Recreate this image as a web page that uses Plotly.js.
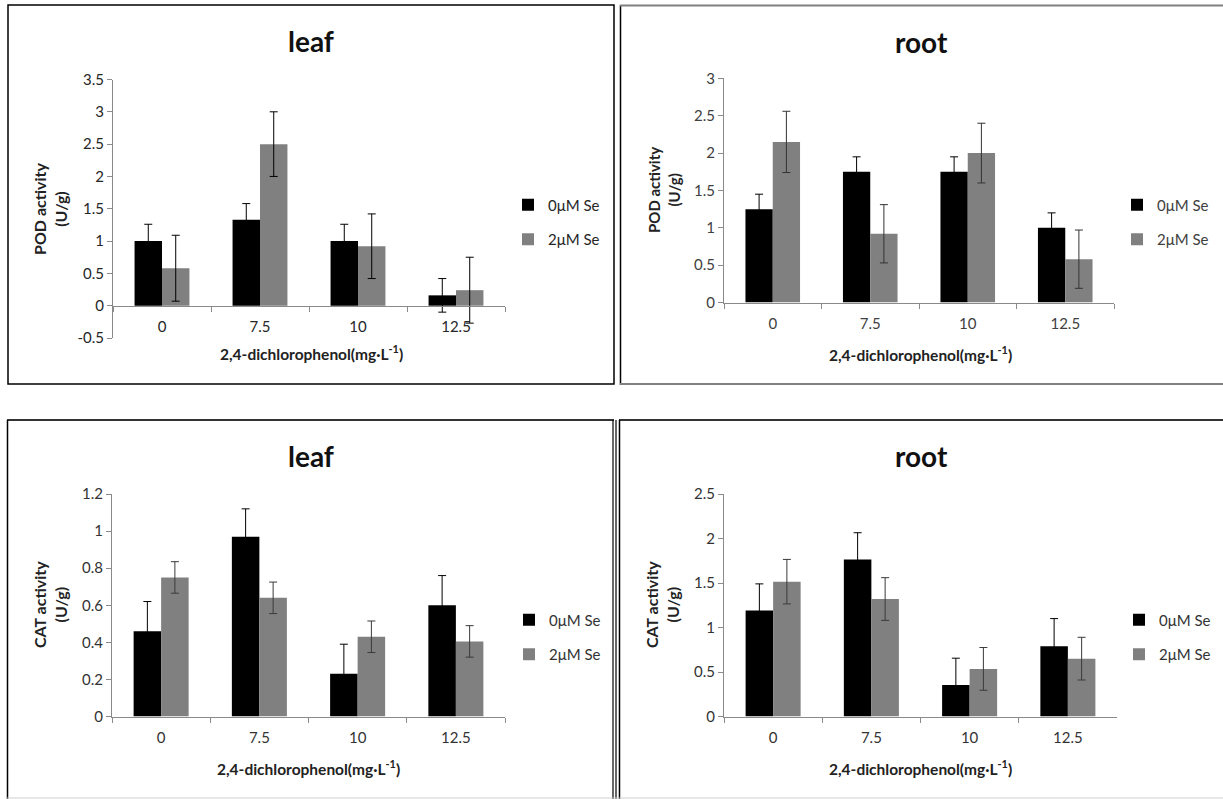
<!DOCTYPE html>
<html><head><meta charset="utf-8">
<script src="https://cdn.plot.ly/plotly-3.0.1.min.js"></script>
<style>html,body{margin:0;padding:0;background:#fff}#chart{width:1223px;height:799px}</style>
</head><body><div id="chart"></div>
<script>
// ---- data ----
const categories = ['0', '7.5', '10', '12.5'];
const seriesNames = ['0μM Se', '2μM Se'];

const podLeaf0 = [1.0, 1.33, 1.0, 0.16];
const podLeaf0Err = [0.26, 0.25, 0.26, 0.26];
const podLeaf2 = [0.58, 2.5, 0.92, 0.24];
const podLeaf2Err = [0.51, 0.5, 0.5, 0.51];

const podRoot0 = [1.25, 1.75, 1.75, 1.0];
const podRoot0Err = [0.2, 0.2, 0.2, 0.2];
const podRoot2 = [2.15, 0.92, 2.0, 0.58];
const podRoot2Err = [0.41, 0.39, 0.4, 0.39];

const catLeaf0 = [0.46, 0.97, 0.23, 0.6];
const catLeaf0Err = [0.16, 0.15, 0.16, 0.16];
const catLeaf2 = [0.75, 0.64, 0.43, 0.405];
const catLeaf2Err = [0.085, 0.085, 0.085, 0.085];

const catRoot0 = [1.19, 1.765, 0.355, 0.79];
const catRoot0Err = [0.3, 0.3, 0.3, 0.31];
const catRoot2 = [1.515, 1.32, 0.535, 0.65];
const catRoot2Err = [0.25, 0.24, 0.24, 0.24];

const podLeafTicks = [-0.5, 0, 0.5, 1, 1.5, 2, 2.5, 3, 3.5];
const podLeafTickText = ['-0.5', '0', '0.5', '1', '1.5', '2', '2.5', '3', '3.5'];
const podRootTicks = [0, 0.5, 1, 1.5, 2, 2.5, 3];
const podRootTickText = ['0', '0.5', '1', '1.5', '2', '2.5', '3'];
const catLeafTicks = [0, 0.2, 0.4, 0.6, 0.8, 1, 1.2];
const catLeafTickText = ['0', '0.2', '0.4', '0.6', '0.8', '1', '1.2'];
const catRootTicks = [0, 0.5, 1, 1.5, 2, 2.5];
const catRootTickText = ['0', '0.5', '1', '1.5', '2', '2.5'];

const panelTitles = ['leaf', 'root', 'leaf', 'root'];
const yTitles = ['POD activity<br>(U/g)', 'POD activity<br>(U/g)', 'CAT activity<br>(U/g)', 'CAT activity<br>(U/g)'];
const xTitle = '2,4-dichlorophenol(mg·L<sup>-1</sup>)';

// ---- layout helpers ----
const W = 1223, H = 799;
const px = v => v / W;
const py = v => 1 - v / H;
const FONT = 'Lato, "Open Sans", sans-serif';
const BLACK = '#000000', GRAY = '#808080';
const AXC = '#8a8a8a';

const panels = [
  {s0: podLeaf0, e0: podLeaf0Err, s1: podLeaf2, e1: podLeaf2Err, tv: podLeafTicks, tt: podLeafTickText,
   range: [-0.5, 3.5], x: [113, 505], y: [79.5, 338], zeroPx: 305.7, errColor: '#000000', txt: '#262626', yts: 16,
   legX: 508, legY: 222, titleX: 311, titleY: 41, yTitleX: 50, yTitleY: 209, xTitleX: 311, xTitleY: 352},
  {s0: podRoot0, e0: podRoot0Err, s1: podRoot2, e1: podRoot2Err, tv: podRootTicks, tt: podRootTickText,
   range: [0, 3], x: [724, 1114], y: [78.4, 302.5], zeroPx: null, errColor: '#333333', txt: '#404040', yts: 15,
   legX: 1117, legY: 222, titleX: 921, titleY: 42, yTitleX: 664, yTitleY: 190, xTitleX: 920, xTitleY: 353},
  {s0: catLeaf0, e0: catLeaf0Err, s1: catLeaf2, e1: catLeaf2Err, tv: catLeafTicks, tt: catLeafTickText,
   range: [0, 1.2], x: [112, 505], y: [494, 716.5], zeroPx: null, errColor: '#3a3a3a', txt: '#333333', yts: 16,
   legX: 509, legY: 637, titleX: 311, titleY: 456, yTitleX: 50, yTitleY: 605, xTitleX: 309, xTitleY: 767},
  {s0: catRoot0, e0: catRoot0Err, s1: catRoot2, e1: catRoot2Err, tv: catRootTicks, tt: catRootTickText,
   range: [0, 2.5], x: [724, 1117], y: [494, 716.5], zeroPx: null, errColor: '#3a3a3a', txt: '#333333', yts: 16,
   legX: 1119, legY: 637, titleX: 921, titleY: 456, yTitleX: 662, yTitleY: 605, xTitleX: 920, xTitleY: 767}
];

const traces = [];
const layout = {
  width: W, height: H,
  margin: {l: 0, r: 0, t: 0, b: 0},
  paper_bgcolor: '#ffffff', plot_bgcolor: 'rgba(0,0,0,0)',
  barmode: 'group', bargap: 0.44, bargroupgap: 0,
  font: {family: FONT, color: '#333333'},
  annotations: [], shapes: []
};

panels.forEach((p, i) => {
  const n = i === 0 ? '' : String(i + 1);
  const xa = 'x' + n, ya = 'y' + n;
  const legName = 'legend' + n;
  // error bars of the black series are black (hidden inside the bar), like the reference
  [[p.s0, p.e0, BLACK, seriesNames[0], '#000000'], [p.s1, p.e1, GRAY, seriesNames[1], p.errColor]].forEach((s, k) => {
    traces.push({
      type: 'bar', x: categories, y: s[0], name: s[3],
      xaxis: xa, yaxis: ya, legend: legName, legendgroup: 'g' + i + '_' + k,
      marker: {color: s[2], line: {width: 0}},
      error_y: {type: 'data', array: s[1], visible: true, color: s[4], thickness: 1, width: 4},
      hoverinfo: 'skip'
    });
  });
  const xaxis = {
    domain: [px(p.x[0]), px(p.x[1])], type: 'category', range: [-0.5, 3.5],
    showline: true, linecolor: AXC, linewidth: 1, ticks: 'outside', tickson: 'boundaries',
    ticklen: 5, tickcolor: AXC, tickwidth: 1, showgrid: false, zeroline: false,
    tickfont: {family: FONT, size: 15, color: p.txt}, ticklabelstandoff: 7, fixedrange: true
  };
  if (p.zeroPx !== null) { xaxis.anchor = 'free'; xaxis.position = py(p.zeroPx); }
  else { xaxis.anchor = ya; }
  layout['xaxis' + n] = xaxis;
  layout['yaxis' + n] = {
    domain: [py(p.y[1]), py(p.y[0])], anchor: xa, range: p.range,
    tickvals: p.tv, ticktext: p.tt,
    showline: true, linecolor: AXC, linewidth: 1, ticks: 'outside', ticklen: 5,
    tickcolor: AXC, tickwidth: 1, showgrid: false, zeroline: false,
    tickfont: {family: FONT, size: 15, color: p.txt}, fixedrange: true
  };
  layout[legName] = {
    x: px(p.legX), xanchor: 'left', y: py(p.legY), yanchor: 'middle',
    xref: 'paper', yref: 'paper',
    font: {family: FONT, size: 15, color: p.txt}, bgcolor: 'rgba(0,0,0,0)',
    traceorder: 'grouped', tracegroupgap: 12, borderwidth: 0
  };
  layout.annotations.push(
    {text: '<b>' + panelTitles[i] + '</b>', xref: 'paper', yref: 'paper', x: px(p.titleX), y: py(p.titleY),
     xanchor: 'center', yanchor: 'middle', showarrow: false, font: {family: FONT, size: 28, color: '#111111'}},
    {text: '<b>' + yTitles[i] + '</b>', xref: 'paper', yref: 'paper', x: px(p.yTitleX), y: py(p.yTitleY),
     xanchor: 'center', yanchor: 'middle', textangle: -90, showarrow: false,
     font: {family: FONT, size: p.yts, color: '#222222'}},
    {text: '<b>' + xTitle + '</b>', xref: 'paper', yref: 'paper', x: px(p.xTitleX), y: py(p.xTitleY),
     xanchor: 'center', yanchor: 'middle', showarrow: false, font: {family: FONT, size: 15.5, color: '#222222'}}
  );
});

// panel frames
const line = (x0, y0, x1, y1, c, w) => ({type: 'line', xref: 'paper', yref: 'paper',
  x0: px(x0), y0: py(y0), x1: px(x1), y1: py(y1), line: {color: c, width: w}});
layout.shapes.push(
  // top-left
  {type: 'rect', xref: 'paper', yref: 'paper', x0: px(8), y0: py(384), x1: px(614), y1: py(5),
   line: {color: '#000000', width: 1.5}, fillcolor: 'rgba(0,0,0,0)'},
  // top-right
  line(620.5, 5, 620.5, 385, '#000000', 1.5),
  line(620, 5.5, 1223, 5.5, '#808080', 2),
  line(620, 384, 1223, 384, '#808080', 2),
  // bottom-left
  line(7, 420, 614, 420, '#333333', 2),
  line(7.5, 420, 7.5, 799, '#000000', 1.5),
  line(613, 420, 613, 799, '#000000', 1.2),
  line(616, 420, 616, 799, '#000000', 1.2),
  // bottom-right
  line(619, 420, 1223, 420, '#333333', 2),
  line(619.5, 420, 619.5, 799, '#000000', 1.5),
  line(7, 798, 1223, 798, '#cfcfcf', 1)
);

Plotly.newPlot('chart', traces, layout, {displayModeBar: false, staticPlot: true});
</script>
</body></html>
